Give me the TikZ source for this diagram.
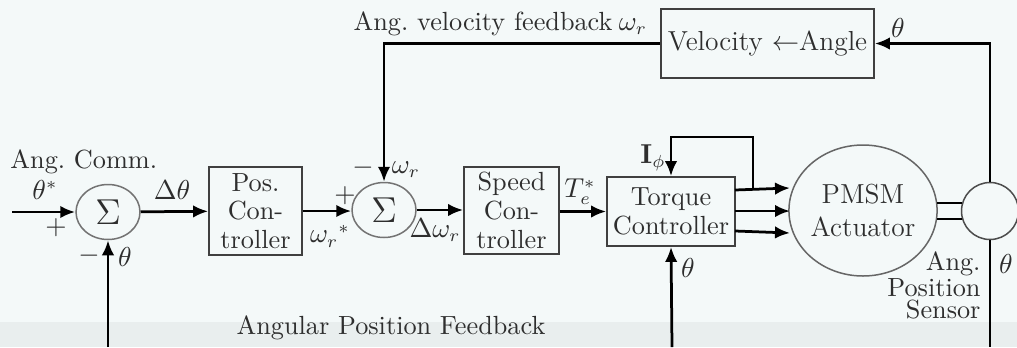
\documentclass[tikz,border=0pt]{standalone}
\usetikzlibrary{arrows.meta,shapes.geometric}
\definecolor{bgc}{HTML}{F4F9F9}
\definecolor{bgb}{HTML}{E9EEEE}
\definecolor{txt}{HTML}{2E2E2E}
\begin{document}
\begin{tikzpicture}[x=0.4pt,y=-0.4pt,
  font=\fontsize{10.5}{11.5}\selectfont, text=txt,
  blk/.style={draw=black!75, line width=0.7pt, align=center, inner sep=0pt},
  sumn/.style={draw=black!55, line width=0.6pt, ellipse, inner sep=0pt,
     minimum width=25.6pt, minimum height=22pt, font=\Large},
  sig/.style={-{Latex[length=6pt,width=5pt]}, line width=1.1pt, draw=black},
  lbl/.style={inner sep=0pt}]
\fill[bgc] (0,0) rectangle (1017,347);
\fill[bgb] (0,322) rectangle (1017,347);
\useasboundingbox (0,0) rectangle (1017,347);

% blocks
\node[sumn] (s1) at (108,212) {$\Sigma$};
\node[sumn] (s2) at (384,210) {$\Sigma$};
\node[blk, minimum width=37.2pt, minimum height=35.2pt] (pos) at (255.5,211) {Pos.\\Con-\\troller};
\node[blk, minimum width=38pt, minimum height=34.8pt] (spd) at (511.5,210.5) {Speed\\Con-\\troller};
\node[blk, minimum width=51.2pt, minimum height=27.6pt] (tq) at (671,211.5) {Torque\\Controller};
\node[blk, minimum width=85.2pt, minimum height=27.6pt, font=\fontsize{11}{13}\selectfont] (vel) at (767.5,43.5) {Velocity $\leftarrow$Angle};
\node[draw=black!60, line width=0.6pt, ellipse, minimum width=59.2pt, minimum height=52.4pt, inner sep=0pt, align=center, font=\fontsize{11}{13}\selectfont] (pmsm) at (863,210.5) {PMSM\\Actuator};
\node[draw=black!70, line width=0.6pt, circle, minimum size=22.8pt, inner sep=0pt] (sens) at (990,211) {};

% free ends
\coordinate (in) at (12,212);
\coordinate (b1) at (108,347);
\coordinate (b2) at (672,347);
\coordinate (b3) at (990,347);
\coordinate (o1) at (735,190);
\coordinate (o2) at (735,211);
\coordinate (o3) at (735,231);
\coordinate (e1) at (790,188);
\coordinate (e2) at (790,211);
\coordinate (e3) at (790,233);
\coordinate (lp) at (753,190);
\coordinate (sa1) at (937,203);
\coordinate (sb1) at (962,203);
\coordinate (sa2) at (937,219);
\coordinate (sb2) at (962,219);

% connectors
\draw[sig] (in) -- (s1);
\draw[sig] (s1) -- (pos);
\draw[sig] (b1) -- (s1.south);
\draw[sig] (pos.east) -- (s2.west |- pos.east);
\draw[sig] (vel.west) -| (s2.north);
\draw[sig] (s2) -- (spd.west |- s2);
\draw[sig] (spd.east |- tq.west) -- (tq.west);
\draw[sig] (o1) -- (e1);
\draw[sig] (o2) -- (e2);
\draw[sig] (o3) -- (e3);
\draw[sig] (lp) -- ++(0,-53) -| (tq.north);
\draw[sig] (b2) -- (tq.south);
\draw[line width=0.8pt] (sa1) -- (sb1) (sa2) -- (sb2);
\draw[sig] (sens.north) |- (vel.east);
\draw[line width=1.1pt] (sens.south) -- (b3);

% labels
\node[lbl, anchor=west] (lc) at (10,162) {Ang.\ Comm.};
\node[lbl] (l1) at (45,190) {$\theta^*$};
\node[lbl] (l2) at (56,228) {$+$};
\node[lbl] (l3) at (172,190) {$\Delta\theta$};
\node[lbl] (l4) at (89,256) {$-$};
\node[lbl] (l5) at (125,257) {$\theta$};
\node[lbl] (l6) at (391,328) {Angular Position Feedback};
\node[lbl] (l7) at (345,196) {$+$};
\node[lbl] (l8) at (330,236) {$\omega_r{}^*$};
\node[lbl] (l9) at (363,168) {$-$};
\node[lbl] (l10) at (406,170) {$\omega_r$};
\node[lbl] (l11) at (435,230) {$\Delta\omega_r$};
\node[lbl] (l12) at (580,192) {$T_e^*$};
\node[lbl] (l13) at (653,158) {$\mathbf{I}_\phi$};
\node[lbl] (l14) at (688,268) {$\theta$};
\node[lbl] (l15) at (898,28) {$\theta$};
\node[lbl] (l16) at (1006,264) {$\theta$};
\node[lbl, anchor=east] (l17) at (613,24) {Ang.\ velocity feedback};
\node[lbl] (l18) at (633,27) {$\omega_r$};
\node[lbl, anchor=north east, align=right, font=\fontsize{10.5}{9}\selectfont] (l19) at (981,251) {Ang.\\Position\\Sensor};
\end{tikzpicture}
\end{document}
